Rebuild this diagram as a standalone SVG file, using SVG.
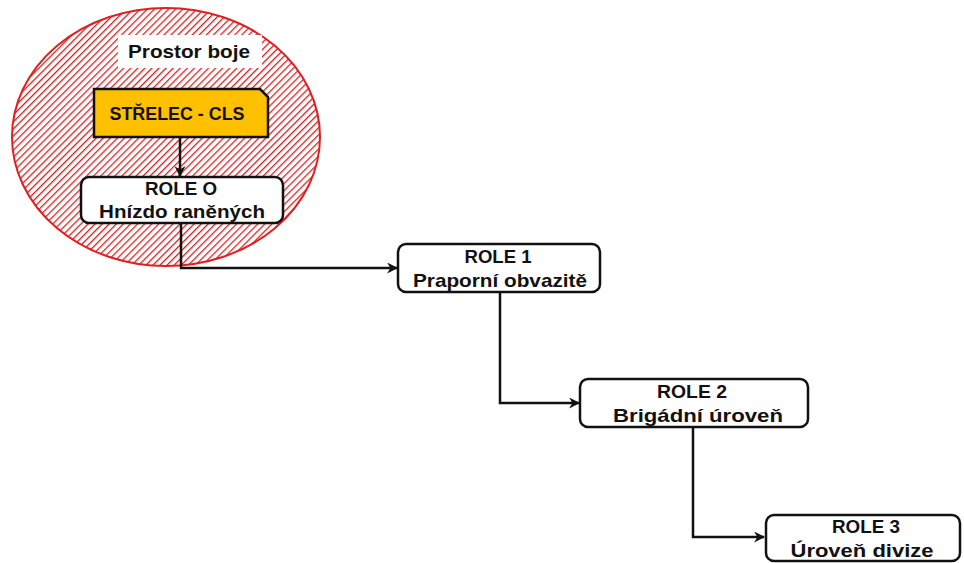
<svg xmlns="http://www.w3.org/2000/svg" width="964" height="563" viewBox="0 0 964 563">
  <defs>
    <pattern id="hatch" width="5" height="5" patternUnits="userSpaceOnUse" patternTransform="rotate(45)">
      <rect width="5" height="5" fill="#ffffff"/>
      <line x1="0" y1="0" x2="0" y2="5" stroke="#d42020" stroke-width="2.6"/>
    </pattern>
    <marker id="arrow" viewBox="0 0 10 10" refX="9" refY="5" markerWidth="11" markerHeight="11" markerUnits="userSpaceOnUse" orient="auto">
      <path d="M0,0 L10,5 L0,10 L3,5 Z" fill="#111"/>
    </marker>
  </defs>
  <style>
    .box { fill: #ffffff; stroke: #111; stroke-width: 2.5; }
    .lbl { font-family: "Liberation Sans", Arial, sans-serif; font-weight: bold; font-size: 18.5px; fill: #111; text-anchor: middle; }
    .conn { fill: none; stroke: #111; stroke-width: 2.5; }
  </style>

  <rect width="964" height="563" fill="#ffffff"/>

  <g id="battle-area">
    <ellipse cx="166" cy="137" rx="154" ry="129" fill="url(#hatch)" stroke="#e02020" stroke-width="2"/>
    <rect x="118" y="35" width="144" height="33" fill="#ffffff"/>
    <text class="lbl" x="189" y="58" textLength="122" lengthAdjust="spacingAndGlyphs">Prostor boje</text>
  </g>

  <g id="connectors">
    <path class="conn" d="M180,137 V176" marker-end="url(#arrow)"/>
    <path class="conn" d="M181,223 V268 H397" marker-end="url(#arrow)"/>
    <path class="conn" d="M500,292 V403 H579" marker-end="url(#arrow)"/>
    <path class="conn" d="M693,427 V537 H764" marker-end="url(#arrow)"/>
  </g>

  <g id="shooter">
    <path d="M94,89 H260 L268,97 V137 H94 Z" fill="#ffc000" stroke="#111" stroke-width="2.5"/>
    <text class="lbl" x="177" y="120" textLength="135" lengthAdjust="spacingAndGlyphs">STŘELEC - CLS</text>
  </g>

  <g id="role0">
    <rect class="box" x="81" y="177" width="202" height="46" rx="8"/>
    <text class="lbl" x="181" y="195" textLength="72" lengthAdjust="spacingAndGlyphs">ROLE O</text>
    <text class="lbl" x="182" y="218" textLength="166" lengthAdjust="spacingAndGlyphs">Hnízdo raněných</text>
  </g>

  <g id="role1">
    <rect class="box" x="398" y="244" width="202" height="48" rx="8"/>
    <text class="lbl" x="498" y="263" textLength="67" lengthAdjust="spacingAndGlyphs">ROLE 1</text>
    <text class="lbl" x="500" y="287" textLength="174" lengthAdjust="spacingAndGlyphs">Praporní obvazitě</text>
  </g>

  <g id="role2">
    <rect class="box" x="580" y="379" width="228" height="48" rx="8"/>
    <text class="lbl" x="692" y="398" textLength="70" lengthAdjust="spacingAndGlyphs">ROLE 2</text>
    <text class="lbl" x="698" y="422" textLength="170" lengthAdjust="spacingAndGlyphs">Brigádní úroveň</text>
  </g>

  <g id="role3">
    <rect class="box" x="766" y="515" width="194" height="46" rx="8"/>
    <text class="lbl" x="866" y="533" textLength="68" lengthAdjust="spacingAndGlyphs">ROLE 3</text>
    <text class="lbl" x="862" y="557" textLength="143" lengthAdjust="spacingAndGlyphs">Úroveň divize</text>
  </g>
</svg>
